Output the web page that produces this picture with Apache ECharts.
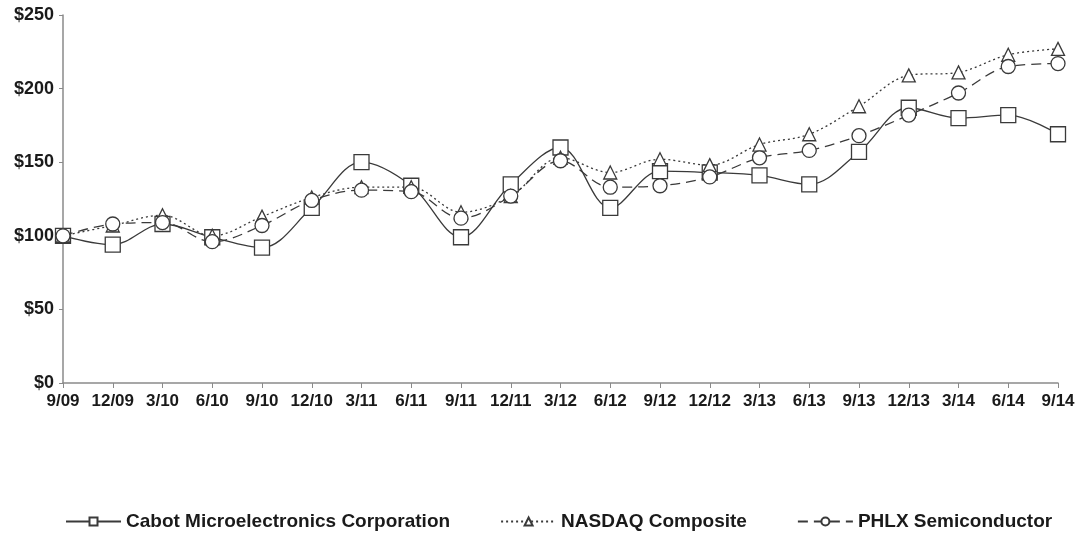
<!DOCTYPE html>
<html><head><meta charset="utf-8">
<script src="https://cdn.jsdelivr.net/npm/echarts@6/dist/echarts.min.js"></script>
<style>html,body{margin:0;padding:0;background:#fff}#c{width:1080px;height:537px}</style>
</head><body><div id="c"></div>
<script>
const categories = ['9/09','12/09','3/10','6/10','9/10','12/10','3/11','6/11','9/11','12/11','3/12','6/12','9/12','12/12','3/13','6/13','9/13','12/13','3/14','6/14','9/14'];
const cabot  = [100, 94, 108, 99, 92, 119, 150, 134, 99, 135, 160, 119, 144, 143, 141, 135, 157, 187, 180, 182, 169];
const nasdaq = [100, 107, 114, 100, 113, 126, 133, 133, 116, 127, 153, 143, 152, 148, 162, 169, 188, 209, 211, 223, 227];
const phlx   = [100, 108, 109, 96, 107, 124, 131, 130, 112, 127, 151, 133, 134, 140, 153, 158, 168, 182, 197, 215, 217];
const yTicks = [0, 50, 100, 150, 200, 250];

const chart = echarts.init(document.getElementById('c'));
const fontFam = '"Liberation Sans",Arial,sans-serif';
const lineColor = '#3a3a3a';
function mk(name, data, symbol, size, ltype) {
  return {
    name, type: 'line', data, smooth: 0.35, symbol, symbolSize: size,
    lineStyle: { color: lineColor, width: 1.3, type: ltype },
    itemStyle: { color: '#fff', borderColor: lineColor, borderWidth: 1.3 },
    emphasis: { disabled: true }
  };
}
chart.setOption({
  animation: false,
  backgroundColor: '#fff',
  grid: { left: 63, right: 22, top: 15, bottom: 154 },
  xAxis: {
    type: 'category', data: categories, boundaryGap: false,
    axisLine: { lineStyle: { color: '#8a8a8a', width: 1.5 } },
    axisTick: { alignWithLabel: true, length: 5, lineStyle: { color: '#8a8a8a' } },
    axisLabel: { color: '#1a1a1a', fontWeight: 'bold', fontSize: 17, fontFamily: fontFam, margin: 10, interval: 0 }
  },
  yAxis: {
    type: 'value', min: 0, max: 250, interval: 50,
    axisLine: { show: true, lineStyle: { color: '#8a8a8a', width: 1.5 } },
    axisTick: { show: true, length: 4, lineStyle: { color: '#8a8a8a' } },
    splitLine: { show: false },
    axisLabel: { color: '#1a1a1a', fontWeight: 'bold', fontSize: 18, fontFamily: fontFam, margin: 9,
      formatter: v => yTicks.includes(v) ? '$' + v : '' }
  },
  legend: {
    bottom: 1, left: 60, itemGap: 50, itemWidth: 55, itemHeight: 10,
    textStyle: { color: '#1a1a1a', fontWeight: 'bold', fontSize: 19, fontFamily: fontFam },
    data: ['Cabot Microelectronics Corporation', 'NASDAQ Composite', 'PHLX Semiconductor']
  },
  series: [
    mk('Cabot Microelectronics Corporation', cabot, 'rect', 15, 'solid'),
    mk('NASDAQ Composite', nasdaq, 'triangle', 13, [2, 3]),
    mk('PHLX Semiconductor', phlx, 'circle', 14, [10, 6])
  ]
});
</script></body></html>
